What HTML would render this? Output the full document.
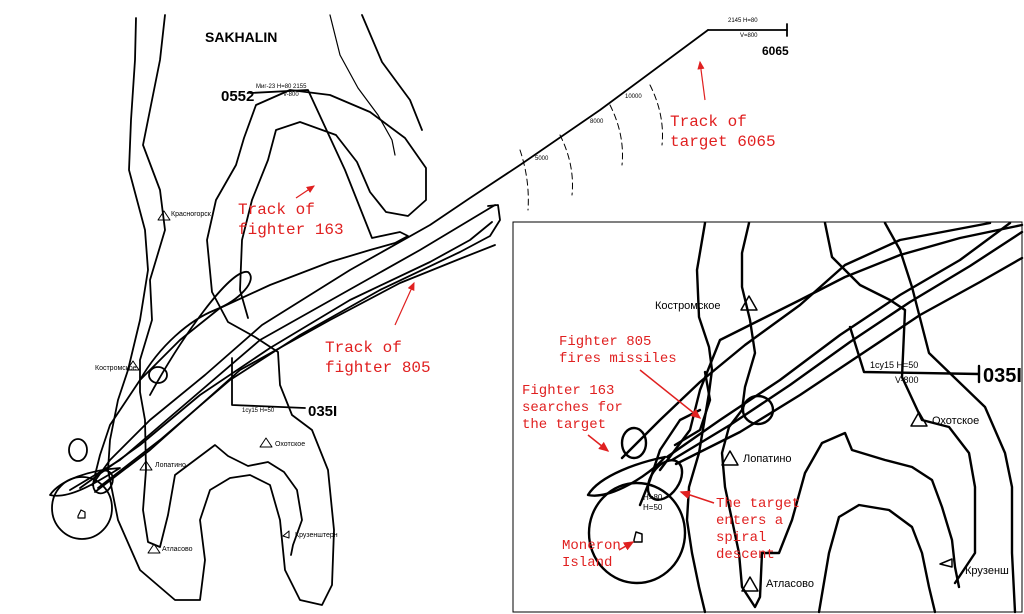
<!DOCTYPE html>
<html><head><meta charset="utf-8"><style>
html,body{margin:0;padding:0;background:#fff;}
svg{display:block;}
.r{font-family:"Liberation Mono",monospace;fill:#e02020;}
.k{font-family:"Liberation Sans",sans-serif;fill:#000;}
</style></head><body>
<svg width="1024" height="614" viewBox="0 0 1024 614" xmlns="http://www.w3.org/2000/svg">
<rect width="1024" height="614" fill="#fff"/>
<defs><marker id="a" markerWidth="8" markerHeight="8" refX="6" refY="3" orient="auto"><path d="M0,0 L7,3 L0,6 z" fill="#e02020"/></marker></defs>

<!-- LEFT MAP -->
<g fill="none" stroke="#000" stroke-width="1.8" stroke-linejoin="round" stroke-linecap="round">
<polyline points="136,18 135,60 131,120 129,170 145,230 148,270 140,320 128,370 118,400 110,440 108,470 118,520 140,570 175,600 200,600 205,560 200,520 210,490 230,478 250,475 270,485 280,520 285,570 300,600 322,605 332,585 334,530 328,470 312,430 292,415 280,385 278,352 255,337 228,322 212,292 207,240 216,200 236,165 244,138 256,105 290,90 330,95 370,112 405,138 426,168 426,200 408,216 386,212 370,192 357,162 336,135 300,122 276,130 268,160 252,200 242,240 240,290 248,318"/>
<polyline points="165,15 160,60 150,110 143,145 160,190 165,230 150,280 152,320 140,360 140,392 145,420 146,470 143,510 148,542 160,547 168,515 175,475 195,460 215,445 228,456 248,466 268,462 284,472 297,490 302,520 293,545 291,555"/>
<polyline points="330,15 340,55 358,88 378,115 392,140 395,155" stroke-width="1.2"/>
<polyline points="362,15 382,62 410,100 422,130"/>
<ellipse cx="82" cy="508" rx="30" ry="31"/>
<path d="M78,516 l3,-6 l4,2 l0,6 l-7,0 z" stroke-width="1.2"/>
<polyline points="708,30 600,110 520,165 470,198 430,225 350,270 262,325 205,375 150,420 110,460 92,485"/>
<polyline points="708,30 787,30"/><line x1="787" y1="24" x2="787" y2="36"/>
<polyline points="250,93 308,90 345,170 372,238 400,232 408,236 395,243 370,250 330,262 270,285 220,308 180,340 140,380 110,425 100,455 95,475"/>
<polyline points="70,490 120,460 190,400 260,340 340,295 420,250 480,214 495,205"/>
<polyline points="80,488 140,445 200,395 270,348 350,300 430,262 470,240 492,222"/>
<polyline points="98,488 160,440 230,380 300,335 380,290 460,252 490,236 500,220 498,205 488,206"/>
<polyline points="95,492 150,450 240,370 330,320 400,283 462,258 495,245"/>
<path d="M150,395 C180,340 230,268 248,272 C258,280 240,300 215,310 C190,320 160,345 140,380"/>
<ellipse cx="78" cy="450" rx="9" ry="11"/>
<path d="M50,495 C60,480 90,470 120,468 C100,480 70,500 50,495 z"/>
<ellipse cx="103" cy="482" rx="9" ry="12" transform="rotate(30 103 482)"/>
<ellipse cx="158" cy="375" rx="9" ry="8"/>
<polyline points="232,358 232,405 305,408"/>
<path d="M520,150 Q530,180 528,210" stroke-width="1" stroke-dasharray="6 4"/>
<path d="M560,135 Q575,165 572,195" stroke-width="1" stroke-dasharray="6 4"/>
<path d="M610,105 Q625,135 622,165" stroke-width="1" stroke-dasharray="6 4"/>
<path d="M650,85 Q665,115 662,145" stroke-width="1" stroke-dasharray="6 4"/>
<g stroke-width="1"><path d="M158,220 l6,-9 l6,9 z"/><path d="M127,370 l6,-9 l6,9 z"/><path d="M140,470 l6,-9 l6,9 z"/><path d="M260,447 l6,-9 l6,9 z"/><path d="M148,553 l6,-9 l6,9 z"/><path d="M283,536 l6,-5 l0,7 z"/></g>
</g>
<text x="205" y="42" class="k" font-size="14" font-weight="bold">SAKHALIN</text>
<text x="221" y="101" class="k" font-size="15" font-weight="bold">0552</text>
<text x="256" y="88" class="k" font-size="6">Миг-23  H=80 2155</text>
<text x="283" y="96" class="k" font-size="6">V-800</text>
<text x="308" y="416" class="k" font-size="15" font-weight="bold">035I</text>
<text x="242" y="412" class="k" font-size="6">1су15  H=50</text>
<text x="762" y="55" class="k" font-size="12" font-weight="bold">6065</text>
<text x="728" y="22" class="k" font-size="6">2145 H=80</text>
<text x="740" y="37" class="k" font-size="6">V=800</text>
<text x="625" y="98" class="k" font-size="6">10000</text>
<text x="590" y="123" class="k" font-size="6">8000</text>
<text x="535" y="160" class="k" font-size="6">5000</text>
<g class="k" font-size="7">
<text x="171" y="216">Красногорск</text><text x="95" y="370">Костромское</text><text x="155" y="467">Лопатино</text>
<text x="275" y="446">Охотское</text><text x="162" y="551">Атласово</text><text x="295" y="537">Крузенштерн</text>
</g>
<g class="r" font-size="16">
<text x="238" y="214">Track of</text><text x="238" y="234">fighter 163</text>
<text x="325" y="352">Track of</text><text x="325" y="372">fighter 805</text>
<text x="670" y="126">Track of</text><text x="670" y="146">target 6065</text>
</g>
<g stroke="#e02020" stroke-width="1.2" marker-end="url(#a)">
<line x1="296" y1="198" x2="314" y2="186"/><line x1="395" y1="325" x2="414" y2="283"/><line x1="705" y1="100" x2="700" y2="62"/>
</g>

<!-- INSET -->
<rect x="513" y="222" width="509" height="390" fill="#fff" stroke="#000" stroke-width="1"/>
<g fill="none" stroke="#000" stroke-width="2.4" stroke-linejoin="round" stroke-linecap="round">
<polyline points="705,223 697,270 699,317 709,347 712,370 709,393 699,453 689,487 687,520 692,553 699,587 705,612"/>
<polyline points="749,223 742,253 742,287 750,320 755,353 745,387 742,410 729,427 722,453 725,487 732,520 739,553 742,587 755,607 760,597 762,553 779,553 792,520 805,473 822,443 845,433 852,450 885,460 912,467 932,480 942,507 952,540 955,567 959,587"/>
<polyline points="819,612 829,553 839,517 859,505 889,510 912,527 922,553 929,587 935,612"/>
<polyline points="825,223 832,257 860,285 890,300 905,310 902,377 922,420 949,427 969,453 975,487 975,553 955,583"/>
<polyline points="885,223 900,250 912,287 929,353 985,407 1005,453 1012,487 1012,553 1015,612"/>
<ellipse cx="637" cy="533" rx="48" ry="50"/>
<path d="M634,540 l2,-8 l6,2 l0,8 l-8,0 z" stroke-width="1.5"/>
<ellipse cx="634" cy="443" rx="12" ry="15"/>
<path d="M588,495 C600,475 640,462 665,457 C650,475 610,500 588,495 z"/>
<ellipse cx="665" cy="480" rx="14" ry="22" transform="rotate(35 665 480)"/>
<ellipse cx="758" cy="410" rx="15" ry="14"/>
<polyline points="622,458 660,420 700,382 745,345 800,305 845,265 900,240 990,223"/>
<polyline points="667,457 720,420 780,380 840,335 900,295 960,260 1010,223"/>
<polyline points="672,460 730,425 790,385 850,342 910,302 970,266 1022,232"/>
<polyline points="676,464 740,432 800,395 860,355 920,315 980,282 1022,258"/>
<polyline points="660,470 690,430 700,390 720,340 760,320 800,300 845,277 900,255 960,238 1022,225"/>
<polyline points="640,505 650,480 660,450 680,420 700,410"/>
<polyline points="675,445 700,430 710,400 705,372"/>
<polyline points="850,327 864,372 979,374"/>
<line x1="979" y1="366" x2="979" y2="382"/>
<g stroke-width="1.5"><path d="M741,310 l8,-14 l8,14 z"/><path d="M722,465 l8,-14 l8,14 z"/><path d="M911,426 l8,-14 l8,14 z"/><path d="M742,591 l8,-14 l8,14 z"/><path d="M940,564 l12,-5 l0,8 z"/></g>
</g>
<text x="983" y="382" class="k" font-size="20" font-weight="bold">035I</text>
<text x="870" y="368" class="k" font-size="9">1су15  H=50</text>
<text x="895" y="383" class="k" font-size="9">V-800</text>
<g class="k" font-size="11">
<text x="655" y="309">Костромское</text><text x="743" y="462">Лопатино</text>
<text x="932" y="424">Охотское</text><text x="766" y="587">Атласово</text><text x="965" y="574">Крузенш</text>
<text x="643" y="500" font-size="8">H=80</text><text x="643" y="510" font-size="8">H=50</text>
</g>
<g class="r" font-size="14">
<text x="559" y="345">Fighter 805</text><text x="559" y="362">fires missiles</text>
<text x="522" y="394">Fighter 163</text><text x="522" y="411">searches for</text><text x="522" y="428">the target</text>
<text x="716" y="507">The target</text><text x="716" y="524">enters a</text><text x="716" y="541">spiral</text><text x="716" y="558">descent</text>
<text x="562" y="549">Moneron</text><text x="562" y="566">Island</text>
</g>
<g stroke="#e02020" stroke-width="1.5" marker-end="url(#a)">
<line x1="640" y1="370" x2="700" y2="418"/><line x1="588" y1="435" x2="608" y2="451"/>
<line x1="714" y1="503" x2="681" y2="492"/><line x1="619" y1="550" x2="633" y2="542"/>
</g>
</svg>
</body></html>
